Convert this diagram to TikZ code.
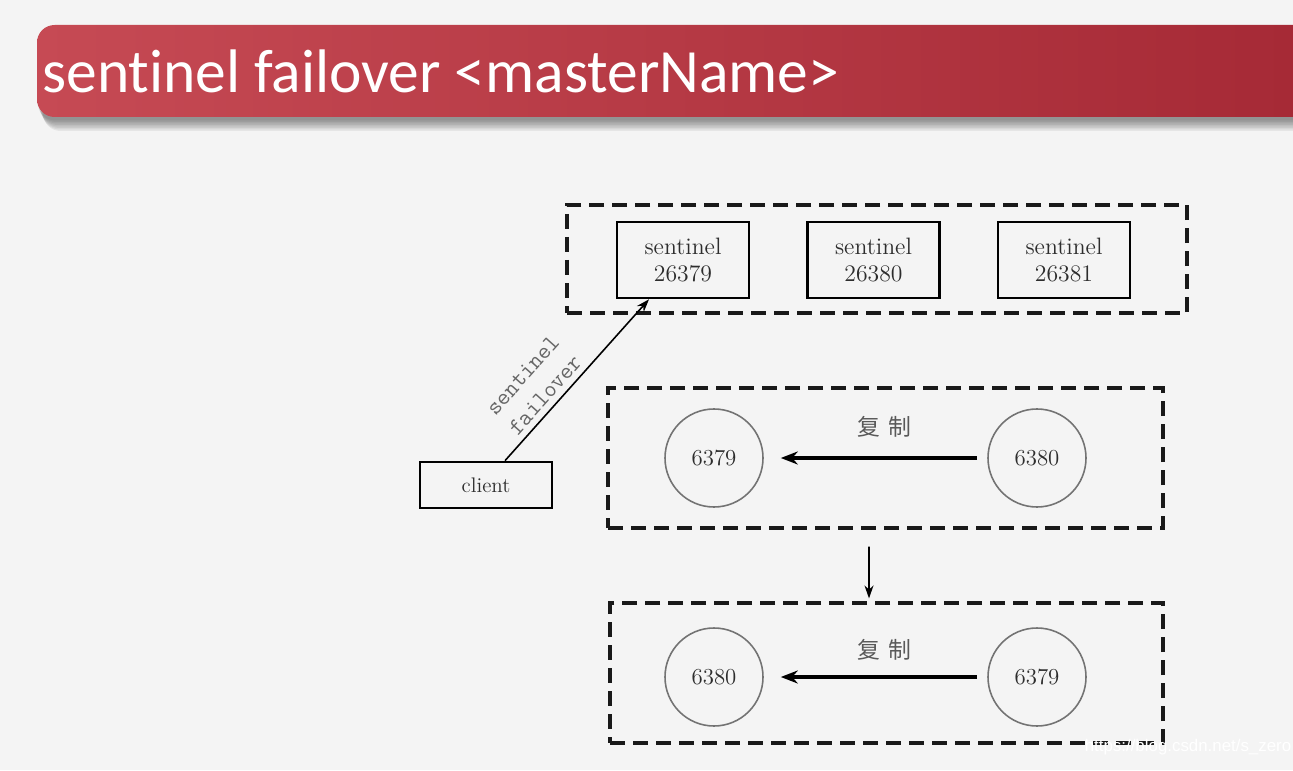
\documentclass[tikz,border=0pt]{standalone}
\usepackage{fontspec}
\newfontfamily\titlefont[Ligatures=NoCommon]{Carlito}
\newfontfamily\cjk{Noto Sans CJK SC}
\newfontfamily\markfont{Liberation Sans}
\usepackage{tikz}
\usetikzlibrary{arrows.meta, positioning, calc}
\definecolor{pagebg}{RGB}{244,244,244}
\definecolor{barleft}{RGB}{198,74,84}
\definecolor{barright}{RGB}{166,42,54}
\definecolor{inktext}{RGB}{45,45,45}
\definecolor{ringgray}{RGB}{115,115,115}

\begin{document}
\begin{tikzpicture}[
    frame/.style={rectangle, draw=black!90, line width=1.8pt, dash pattern=on 3mm off 1.6mm},
    senbox/.style={rectangle, draw, line width=1.5pt, minimum width=2.64cm, minimum height=1.52cm, align=center, text=inktext, font=\fontsize{13.5}{15.5}\selectfont},
    clientbox/.style={rectangle, draw, line width=1.5pt, minimum width=2.64cm, minimum height=0.92cm, text=inktext, font=\fontsize{12}{14}\selectfont},
    ring/.style={circle, draw=ringgray, line width=0.9pt, minimum size=1.96cm, text=inktext, font=\fontsize{13}{15}\selectfont},
    copylabel/.style={text=black!65, font=\cjk\fontsize{13}{15}\selectfont},
    arrow/.style={-{Stealth[length=3.4mm, width=2.6mm]}, line width=2.2pt},
    thinarrow/.style={-{Stealth[length=2.6mm, width=1.8mm]}, line width=0.9pt}
]

% Page background
\fill[pagebg] (0,0) rectangle (25.86,15.4);
\useasboundingbox (0,0) rectangle (25.86,15.4);

% Title bar with shadow
\foreach \k in {1,...,8}
  \fill[black, opacity=0.06] (25.86,14.6) [rounded corners=10pt] -- (0.74+0.015*\k,14.6) -- (0.74+0.015*\k,13.02-0.03*\k) [sharp corners] -- (25.86,13.02-0.03*\k) -- cycle;
\shade[left color=barleft, right color=barright] (25.86,14.9) [rounded corners=10pt] -- (0.74,14.9) -- (0.74,13.06) [sharp corners] -- (25.86,13.06) -- cycle;
\node[anchor=base west, inner sep=0, text=white, font=\titlefont\fontsize{35}{40}\selectfont] (title) at (0.84,13.54) {sentinel failover <masterName>};

% Sentinels
\node[frame, minimum width=12.4cm, minimum height=2.16cm] (senframe) at (17.54,10.22) {};
\node[senbox] (sen1) at (13.66,10.2) {sentinel\\26379};
\node[senbox] (sen2) at (17.47,10.2) {sentinel\\26380};
\node[senbox] (sen3) at (21.28,10.2) {sentinel\\26381};

% Client
\node[clientbox] (client) at (9.72,5.7) {client};
\draw[thinarrow] ([xshift=3.8mm]client.north) -- ([xshift=-6.8mm]sen1.south)
    node[pos=0.35, sloped, above, align=center, text=black!60, font=\ttfamily\fontsize{13.5}{17}\selectfont] (cmdlabel) {sentinel\\failover};

% Before failover
\node[frame, minimum width=11.1cm, minimum height=2.8cm] (oldframe) at (17.71,6.24) {};
\node[ring] (m6379) at (14.28,6.24) {6379};
\node[ring] (s6380) at (20.74,6.24) {6380};
\draw[arrow, shorten <=0.2cm, shorten >=0.34cm] (s6380) -- (m6379);
\node[copylabel] (copy1) at (17.68,6.86) {复\hspace{0.35em}制};

% After failover
\node[frame, minimum width=11.06cm, minimum height=2.8cm] (newframe) at (17.73,1.94) {};
\node[ring] (m6380) at (14.28,1.86) {6380};
\node[ring] (s6379) at (20.74,1.86) {6379};
\draw[arrow, shorten <=0.2cm, shorten >=0.34cm] (s6379) -- (m6380);
\node[copylabel] (copy2) at (17.68,2.4) {复\hspace{0.35em}制};

% Failover step
\draw[thinarrow, shorten <=0.34cm, shorten >=0.06cm] ([xshift=-3.3mm]oldframe.south) -- ([xshift=-3.5mm]newframe.north);

% Watermark
\node[text=white, font=\markfont\fontsize{9.6}{12}\selectfont] (mark) at (23.76,0.46) {https://blog.csdn.net/s\_zero};

\end{tikzpicture}
\end{document}
